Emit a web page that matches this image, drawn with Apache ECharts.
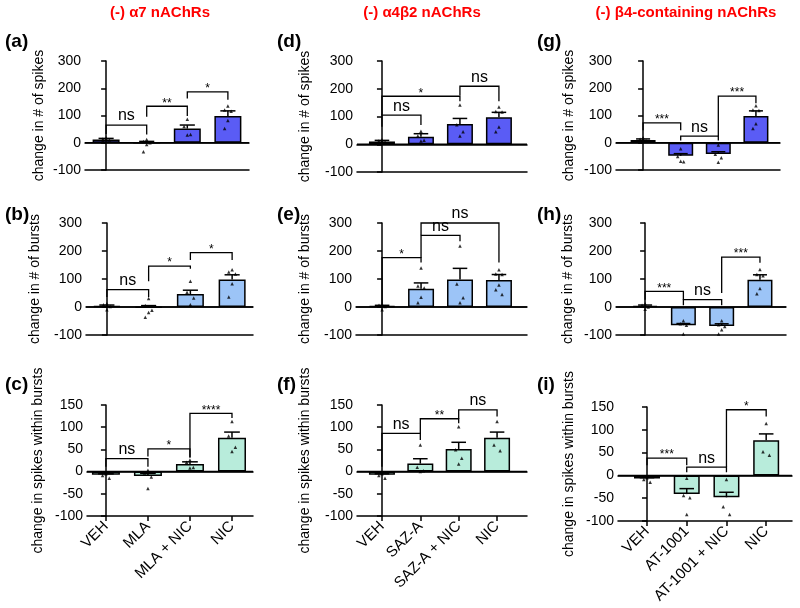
<!DOCTYPE html>
<html><head><meta charset="utf-8">
<script src="https://cdn.jsdelivr.net/npm/echarts@6/dist/echarts.min.js"></script>
<style>html,body{margin:0;padding:0;background:#fff}#c{width:800px;height:608px}</style>
</head><body><div id="c"></div>
<script>
// ---------- categories ----------
const catsA7 = ['VEH', 'MLA', 'MLA + NIC', 'NIC'];
const catsA4B2 = ['VEH', 'SAZ-A', 'SAZ-A + NIC', 'NIC'];
const catsB4 = ['VEH', 'AT-1001', 'AT-1001 + NIC', 'NIC'];

// ---------- column titles ----------
const colTitles = ['(-) α7 nAChRs', '(-) α4β2 nAChRs', '(-) β4-containing nAChRs'];
const panelLetters = ['(a)', '(b)', '(c)', '(d)', '(e)', '(f)', '(g)', '(h)', '(i)'];
const rowNames = ['change in # of spikes', 'change in # of bursts', 'change in spikes within bursts'];

// ---------- (a) spikes, α7 ----------
const aMean = [12, 0, 52, 98];
const aSem = [4, 5, 13, 19];
const aPts = [[18, 14, 10, 6, 8], [12, 5, 0, -6, -33], [86, 60, 30, 28], [135, 120, 116, 82, 52]];
const aSig = [[0, 1, 65, 32, 30, 'ns'], [1, 2, 134, 95, 98, '**'], [2, 3, 187, 162, 158, '*']];

// ---------- (b) bursts, α7 ----------
const bMean = [3, -2, 46, 98];
const bSem = [4, 7, 14, 17];
const bPts = [[12, 8, 2, -10], [30, 5, -12, -20, -37], [92, 53, 32, 8], [133, 125, 118, 83, 36]];
const bSig = [[0, 1, 62, 36, 36, 'ns'], [1, 2, 146, 92, 137, '*'], [2, 3, 194, 168, 168, '*']];

// ---------- (c) spikes within bursts, α7 ----------
const cMean = [-7, -10, 17, 76];
const cSem = [2, 6, 5, 13];
const cPts = [[-5, -9, -15], [3, -3, -12, -38], [26, 21, 9, 8], [113, 80, 55, 45]];
const cSig = [[0, 1, 29, 11, 11, 'ns'], [1, 2, 51, 34, 32, '*'], [2, 3, 131, 32, 121, '****']];

// ---------- (d) spikes, α4β2 ----------
const dMean = [10, 27, 73, 97];
const dSem = [4, 11, 20, 18];
const dPts = [[16, 12, 8, 5], [47, 30, 14, 12], [141, 70, 45, 30], [134, 118, 116, 62, 45]];
const dSig = [[0, 1, 105, 63, 69, 'ns'], [0, 2, 173, 105, 155, '*'], [2, 3, 209, 176, 155, 'ns']];

// ---------- (e) bursts, α4β2 ----------
const eMean = [3, 65, 98, 96];
const eSem = [3, 21, 40, 20];
const ePts = [[10, 6, 2, -10], [139, 75, 68, 35, 15], [218, 82, 33, 15], [133, 118, 116, 79, 62, 45]];
const eSig = [[0, 1, 176, 12, 159, '*'], [1, 2, 256, 176, 235, 'ns'], [1, 3, 300, 256, 159, 'ns']];

// ---------- (f) spikes within bursts, α4β2 ----------
const fMean = [-7, 18, 51, 76];
const fSem = [2, 11, 15, 13];
const fPts = [[-5, -9, -15], [60, 10, 2, 0], [101, 49, 30, 17], [113, 60, 47]];
const fSig = [[0, 1, 86, 11, 71, 'ns'], [1, 2, 119, 86, 109, '**'], [2, 3, 139, 119, 124, 'ns']];

// ---------- (g) spikes, β4 ----------
const gMean = [10, -48, -41, 98];
const gSem = [4, 8, 8, 19];
const gPts = [[18, 13, 8, 6], [-22, -50, -70, -68], [-8, -42, -55, -72], [136, 120, 118, 70, 52]];
const gSig = [[0, 1, 73, 46, 46, '***'], [1, 2, 24, 8, 8, 'ns'], [2, 3, 171, 24, 145, '***']];

// ---------- (h) bursts, β4 ----------
const hMean = [4, -65, -68, 97];
const hSem = [3, 6, 8, 18];
const hPts = [[12, 6, 0, -8], [-49, -60, -65, -96], [-49, -63, -70, -81, -96], [134, 116, 112, 66, 47]];
const hSig = [[0, 1, 56, 26, 26, '***'], [1, 2, 26, 6, 6, 'ns'], [2, 3, 178, 50, 158, '***']];

// ---------- (i) spikes within bursts, β4 ----------
const iMean = [-7, -41, -48, 77];
const iSem = [2, 12, 11, 14];
const iPts = [[-5, -9, -15], [-6, -44, -49, -86], [-9, -69, -86], [114, 52, 44]];
const iSig = [[0, 1, 38, 22, 22, '***'], [1, 2, 18, 7, 7, 'ns'], [2, 3, 144, 18, 129, '*']];

// ---------- axis ranges ----------
const yRangeCount = [-100, 300, 100];
const yRangeWithin = [-100, 150, 50];

// ---------- layout (pixels) ----------
const rowColors = ['#5a5cf5', '#9cc4f7', '#b8ecdb'];
const layout = [
  {l: 85, r: 249, t: 61, b: 170, xmin: -0.52, xmax: 3.52, bw: 27, ng: 39},
  {l: 86, r: 253, t: 223, b: 335, xmin: -0.5, xmax: 3.5, bw: 27, ng: 44},
  {l: 87, r: 253, t: 405, b: 516, xmin: -0.45, xmax: 3.5, bw: 28, ng: 42},
  {l: 357, r: 527, t: 61, b: 172, xmin: -0.64, xmax: 3.72, bw: 26, ng: 45},
  {l: 356, r: 527, t: 223, b: 335, xmin: -0.67, xmax: 3.72, bw: 26, ng: 44},
  {l: 357, r: 527, t: 405, b: 516, xmin: -0.65, xmax: 3.78, bw: 26, ng: 45},
  {l: 616, r: 780, t: 61, b: 170, xmin: -0.72, xmax: 3.64, bw: 25, ng: 40},
  {l: 616, r: 786, t: 223, b: 335, xmin: -0.76, xmax: 3.68, bw: 25, ng: 41},
  {l: 618, r: 792, t: 407, b: 521, xmin: -0.73, xmax: 3.65, bw: 26, ng: 42}
];

const panels = [
  {cats: catsA7, mean: aMean, sem: aSem, pts: aPts, sig: aSig, row: 0},
  {cats: catsA7, mean: bMean, sem: bSem, pts: bPts, sig: bSig, row: 1},
  {cats: catsA7, mean: cMean, sem: cSem, pts: cPts, sig: cSig, row: 2},
  {cats: catsA4B2, mean: dMean, sem: dSem, pts: dPts, sig: dSig, row: 0},
  {cats: catsA4B2, mean: eMean, sem: eSem, pts: ePts, sig: eSig, row: 1},
  {cats: catsA4B2, mean: fMean, sem: fSem, pts: fPts, sig: fSig, row: 2},
  {cats: catsB4, mean: gMean, sem: gSem, pts: gPts, sig: gSig, row: 0},
  {cats: catsB4, mean: hMean, sem: hSem, pts: hPts, sig: hSig, row: 1},
  {cats: catsB4, mean: iMean, sem: iSem, pts: iPts, sig: iSig, row: 2}
];

const FONT = 'Liberation Sans, Arial, sans-serif';
const jitter = [0, -0.08, 0.08, 0, -0.08, 0.08];
const grids = [], xAxes = [], yAxes = [], series = [];

panels.forEach((p, i) => {
  const L = layout[i];
  const yr = p.row === 2 ? yRangeWithin : yRangeCount;
  grids.push({left: L.l, top: L.t, width: L.r - L.l, height: L.b - L.t, containLabel: false});
  const showCats = p.row === 2;
  const xi = xAxes.length;
  // bottom axis (at -100)
  xAxes.push({
    type: 'value', gridIndex: i, min: L.xmin, max: L.xmax, position: 'bottom',
    axisLine: {show: true, onZero: false, lineStyle: {color: '#000', width: 1.5}},
    axisTick: {show: showCats, customValues: [0, 1, 2, 3], length: 5, lineStyle: {color: '#000', width: 1.5}},
    axisLabel: {show: showCats, customValues: [0, 1, 2, 3], formatter: v => p.cats[Math.round(v)],
      rotate: 45, fontSize: 15, color: '#000', fontFamily: FONT, margin: 8},
    splitLine: {show: false}
  });
  // zero-line axis
  xAxes.push({
    type: 'value', gridIndex: i, min: L.xmin, max: L.xmax, position: 'top',
    axisLine: {show: true, onZero: true, lineStyle: {color: '#000', width: 1.5}},
    axisTick: {show: false}, axisLabel: {show: false}, splitLine: {show: false}, z: 3
  });
  yAxes.push({
    type: 'value', gridIndex: i, min: yr[0], max: yr[1], interval: yr[2],
    axisLine: {show: true, lineStyle: {color: '#000', width: 1.5}},
    axisTick: {show: true, length: 5, lineStyle: {color: '#000', width: 1.5}},
    axisLabel: {fontSize: 14, color: '#000', fontFamily: FONT, margin: 4},
    splitLine: {show: false},
    name: rowNames[p.row], nameLocation: 'middle', nameGap: L.ng,
    nameTextStyle: {fontSize: 14, color: '#000', fontFamily: FONT}
  });
  // bars
  series.push({
    type: 'bar', xAxisIndex: xi, yAxisIndex: i, barWidth: L.bw,
    data: p.mean.map((m, k) => [k, m]),
    itemStyle: {color: rowColors[p.row], borderColor: '#000', borderWidth: 1.5},
    animation: false, z: 2
  });
  // zero line across the plot (drawn through the scales)
  series.push({
    type: 'custom', xAxisIndex: xi, yAxisIndex: i, z: 3, animation: false, silent: true, clip: false,
    data: [[L.xmin, 0, L.xmax]],
    renderItem: (params, api) => {
      const a = api.coord([api.value(0), api.value(1)]), b = api.coord([api.value(2), api.value(1)]);
      return {type: 'line', shape: {x1: a[0], y1: a[1], x2: b[0], y2: b[1]}, style: {stroke: '#000', lineWidth: 1.5}};
    }
  });
  // error bars
  series.push({
    type: 'custom', xAxisIndex: xi, yAxisIndex: i, z: 4, animation: false,
    data: p.mean.map((m, k) => [k, m, p.sem[k]]),
    renderItem: (params, api) => {
      const x = api.value(0), m = api.value(1), s = api.value(2);
      const p0 = api.coord([x, m]), p1 = api.coord([x, m + s]);
      const hw = L.bw * 0.28;
      const st = {stroke: '#000', lineWidth: 1.5};
      return {type: 'group', children: [
        {type: 'line', shape: {x1: p0[0], y1: p0[1], x2: p1[0], y2: p1[1]}, style: st},
        {type: 'line', shape: {x1: p1[0] - hw, y1: p1[1], x2: p1[0] + hw, y2: p1[1]}, style: st}
      ]};
    }
  });
  // individual points
  const pd = [];
  p.pts.forEach((arr, k) => arr.forEach((v, j) => pd.push([k + jitter[j % jitter.length], v])));
  series.push({
    type: 'scatter', xAxisIndex: xi, yAxisIndex: i, data: pd, symbol: 'triangle', symbolSize: 3.5,
    itemStyle: {color: '#000'}, z: 5, animation: false, silent: true
  });
  // significance brackets
  series.push({
    type: 'custom', xAxisIndex: xi, yAxisIndex: i, z: 6, animation: false, clip: false,
    data: p.sig.map(s => [s[0], s[2], s[1], s[3], s[4]]),
    renderItem: (params, api) => {
      const s = p.sig[params.dataIndex];
      const a = api.coord([s[0], s[3]]), b = api.coord([s[0], s[2]]);
      const c = api.coord([s[1], s[2]]), d = api.coord([s[1], s[4]]);
      const isNs = s[5] === 'ns';
      return {type: 'group', children: [
        {type: 'polyline', shape: {points: [a, b, c, d]}, style: {stroke: '#000', lineWidth: 1.3, fill: null}},
        {type: 'text', x: (b[0] + c[0]) / 2, y: b[1] + (isNs ? -1 : 3),
          style: {text: s[5], fontSize: isNs ? 16 : 12, fontFamily: FONT, fill: '#000',
            align: 'center', verticalAlign: 'bottom'}}
      ]};
    }
  });
});

// titles and panel letters
const graphic = [];
const titleX = [160, 422, 686];
colTitles.forEach((t, k) => graphic.push({type: 'text', x: titleX[k], y: 13,
  style: {text: t, fontSize: 15, fontWeight: 'bold', fill: '#ff0000', fontFamily: FONT, align: 'center', verticalAlign: 'middle'}}));
const letterX = [5, 5, 5, 277, 277, 277, 537, 537, 537];
const letterY = [42, 215, 385, 42, 215, 385, 42, 215, 385];
panelLetters.forEach((t, k) => graphic.push({type: 'text', x: letterX[k], y: letterY[k],
  style: {text: t, fontSize: 19, fontWeight: 'bold', fill: '#000', fontFamily: FONT, align: 'left', verticalAlign: 'middle'}}));

const chart = echarts.init(document.getElementById('c'), null, {renderer: 'canvas'});
chart.setOption({
  backgroundColor: '#fff', animation: false,
  grid: grids, xAxis: xAxes, yAxis: yAxes, series: series, graphic: graphic
});
</script>
</body></html>
